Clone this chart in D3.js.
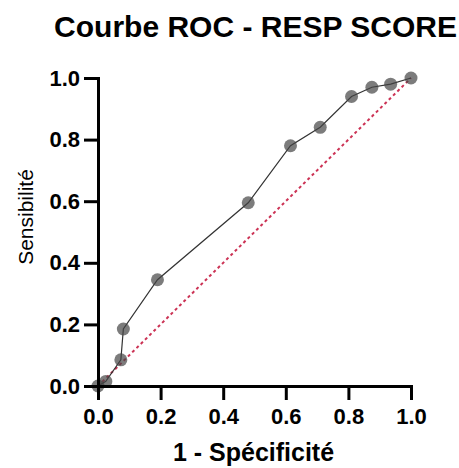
<!DOCTYPE html>
<html>
<head>
<meta charset="utf-8">
<script src="https://cdn.jsdelivr.net/npm/d3@7"></script>
<style>
  body { margin: 0; background: #fff; }
  svg { font-family: "Liberation Sans", Arial, sans-serif; }
  .axis path, .axis line { stroke: #000; stroke-width: 3; }
  .axis text { font-size: 22px; font-weight: bold; fill: #000; }
</style>
</head>
<body>
<svg id="chart" width="459" height="468"></svg>
<script>
// 1 - specificity (x) and sensitivity (y)
var fpr = [0, 0.025, 0.073, 0.081, 0.19, 0.48, 0.615, 0.71, 0.81, 0.875, 0.935, 1];
var tpr = [0, 0.015, 0.085, 0.185, 0.345, 0.595, 0.78, 0.84, 0.94, 0.97, 0.98, 1];
var ticks = [0, 0.2, 0.4, 0.6, 0.8, 1.0];
var diag = [0, 1];

var data = fpr.map(function(d, i) { return {x: d, y: tpr[i]}; });

var svg = d3.select("#chart"),
  margin = {top: 78, right: 48, bottom: 82, left: 98},
  width = +svg.attr("width") - margin.left - margin.right,
  height = +svg.attr("height") - margin.top - margin.bottom,
  g = svg.append("g").attr("transform", "translate(" + margin.left + "," + margin.top + ")");

var x = d3.scaleLinear().domain([0, 1]).range([0, width]);
var y = d3.scaleLinear().domain([0, 1]).range([height, 0]);

// reference diagonal
g.append("line")
  .attr("x1", x(diag[0])).attr("y1", y(diag[0]))
  .attr("x2", x(diag[1])).attr("y2", y(diag[1]))
  .attr("stroke", "#cc3355")
  .attr("stroke-width", 2)
  .attr("stroke-dasharray", "3,3");

var line = d3.line()
  .x(function(d) { return x(d.x); })
  .y(function(d) { return y(d.y); });

g.append("path")
  .datum(data)
  .attr("fill", "none")
  .attr("stroke", "#333")
  .attr("stroke-width", 1.2)
  .attr("d", line);

g.selectAll(".dot")
  .data(data)
  .enter().append("circle")
  .attr("class", "dot")
  .attr("cx", function(d) { return x(d.x); })
  .attr("cy", function(d) { return y(d.y); })
  .attr("r", 6.5)
  .attr("fill", "#444")
  .attr("fill-opacity", 0.7);

g.append("g")
  .attr("class", "axis axis--x")
  .attr("transform", "translate(0," + height + ")")
  .call(d3.axisBottom(x).tickValues(ticks).tickSize(14).tickSizeOuter(0).tickPadding(8).tickFormat(d3.format(".1f")));

g.append("g")
  .attr("class", "axis axis--y")
  .call(d3.axisLeft(y).tickValues(ticks).tickSize(14).tickSizeOuter(0).tickPadding(4).tickFormat(d3.format(".1f")));

svg.selectAll(".axis path").attr("stroke-linecap", "square");

svg.append("text")
  .attr("x", 255.5)
  .attr("y", 37)
  .attr("text-anchor", "middle")
  .style("font-size", "30px")
  .style("font-weight", "bold")
  .text("Courbe ROC - RESP SCORE");

svg.append("text")
  .attr("x", 253.5)
  .attr("y", 461)
  .attr("text-anchor", "middle")
  .style("font-size", "25px")
  .style("font-weight", "bold")
  .text("1 - Spécificité");

svg.append("text")
  .attr("transform", "translate(33,217) rotate(-90)")
  .attr("text-anchor", "middle")
  .style("font-size", "21px")
  .text("Sensibilité");
</script>
</body>
</html>
